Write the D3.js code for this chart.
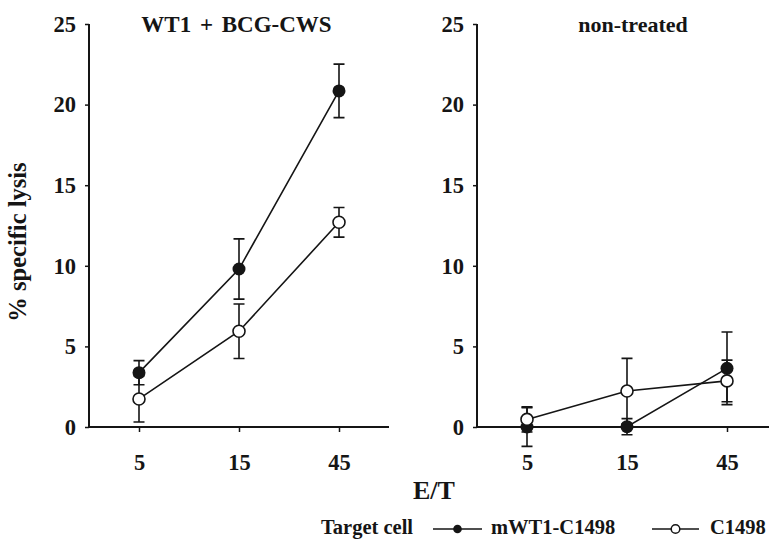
<!DOCTYPE html>
<html>
<head>
<meta charset="utf-8">
<script src="https://cdn.jsdelivr.net/npm/d3@7/dist/d3.min.js"></script>
<style>
  html, body { margin: 0; padding: 0; background: #fff; }
  svg { display: block; }
  text { font-family: "Liberation Serif", "Times New Roman", serif; font-weight: bold; fill: #151515; }
</style>
</head>
<body>
<svg id="chart" width="769" height="539"></svg>
<script>
// E/T ratios on the x axis
const ratios = ["5", "15", "45"];
const yTicks = [0, 5, 10, 15, 20, 25];
const panelTitles = ["WT1 + BCG-CWS", "non-treated"];
const seriesNames = ["mWT1-C1498", "C1498"];

// % specific lysis (mean) and error, per panel
const wt1Mean   = [3.37, 9.8, 20.85];
const wt1Err    = [0.75, 1.87, 1.66];
const c1498Mean = [1.74, 5.94, 12.7];
const c1498Err  = [1.43, 1.69, 0.92];

const ntWt1Mean   = [0.0, 0.02, 3.64];
const ntWt1Err    = [1.2, 0.5, 2.25];
const ntC1498Mean = [0.47, 2.23, 2.86];
const ntC1498Err  = [0.78, 2.03, 1.29];

const panels = [
  { title: panelTitles[0], x0: 89, titleX: 236.5, titleSize: 23, series: [
      { name: seriesNames[0], filled: true,  mean: wt1Mean,   err: wt1Err },
      { name: seriesNames[1], filled: false, mean: c1498Mean, err: c1498Err } ] },
  { title: panelTitles[1], x0: 477, titleX: 633, titleSize: 22, series: [
      { name: seriesNames[0], filled: true,  mean: ntWt1Mean,   err: ntWt1Err },
      { name: seriesNames[1], filled: false, mean: ntC1498Mean, err: ntC1498Err } ] }
];

const ink = "#151515";
const svg = d3.select("#chart");
const y = d3.scaleLinear().domain([0, 25]).range([427, 24]);
const panelWidth = 300;
const r = 6;
const cap = 5.5;

panels.forEach(p => {
  const x = d3.scalePoint().domain(ratios).range([p.x0, p.x0 + panelWidth]).padding(0.5);
  const g = svg.append("g");

  // y axis
  const ya = g.append("g").attr("transform", `translate(${p.x0},0)`)
    .call(d3.axisLeft(y).tickValues(yTicks).tickSize(4).tickPadding(9).tickFormat(d3.format("d")));
  ya.select(".domain").attr("stroke", ink).attr("stroke-width", 2).attr("d", `M-0,${y(25)}V${y(0)}`);
  ya.selectAll(".tick line").attr("stroke", ink).attr("stroke-width", 1.5);
  ya.selectAll(".tick text").attr("font-size", 22.5).attr("font-family", null).attr("fill", null);

  // x axis
  const xa = g.append("g").attr("transform", `translate(0,${y(0)})`)
    .call(d3.axisBottom(x).tickSize(5).tickPadding(22));
  xa.select(".domain").attr("stroke", ink).attr("stroke-width", 2).attr("d", `M${p.x0},0H${p.x0 + panelWidth}`);
  xa.selectAll(".tick line").attr("stroke", ink).attr("stroke-width", 1.5);
  xa.selectAll(".tick text").attr("font-size", 22.5).attr("font-family", null).attr("fill", null);

  // panel title
  g.append("text")
    .attr("x", p.titleX)
    .attr("y", 32)
    .attr("text-anchor", "middle")
    .attr("font-size", p.titleSize)
    .attr("word-spacing", p.titleSize > 22 ? 3 : 0)
    .text(p.title);

  const line = d3.line().x((d, i) => x(ratios[i])).y(d => y(d));

  p.series.forEach(s => {
    g.append("path")
      .attr("d", line(s.mean))
      .attr("fill", "none")
      .attr("stroke", ink)
      .attr("stroke-width", 1.6);
  });

  p.series.forEach(s => {
    const eg = g.append("g");
    s.mean.forEach((m, i) => {
      const cx = x(ratios[i]);
      const top = y(m + s.err[i]);
      const bot = y(m - s.err[i]);
      eg.append("path")
        .attr("d", `M${cx},${top}V${bot}M${cx - cap},${top}H${cx + cap}M${cx - cap},${bot}H${cx + cap}`)
        .attr("fill", "none").attr("stroke", ink).attr("stroke-width", 1.6);
    });
    eg.selectAll("circle").data(s.mean).join("circle")
      .attr("cx", (d, i) => x(ratios[i]))
      .attr("cy", d => y(d))
      .attr("r", s.filled ? r + 0.5 : r)
      .attr("fill", s.filled ? ink : "#fff")
      .attr("stroke", ink)
      .attr("stroke-width", s.filled ? 0 : 1.6);
  });
});

// y axis title
svg.append("text")
  .attr("transform", "translate(26,242) rotate(-90)")
  .attr("text-anchor", "middle")
  .attr("font-size", 24.5)
  .text("% specific lysis");

// x axis title
svg.append("text")
  .attr("x", 434).attr("y", 499)
  .attr("text-anchor", "middle")
  .attr("font-size", 26)
  .text("E/T");

// legend
const lg = svg.append("g");
const legendY = 534;
const legendSize = 20.5;
lg.append("text").attr("x", 321).attr("y", legendY).attr("font-size", legendSize).text("Target cell");
const legendItems = [
  { name: seriesNames[0], filled: true,  x1: 433, x2: 482, tx: 491 },
  { name: seriesNames[1], filled: false, x1: 652, x2: 699, tx: 710 }
];
legendItems.forEach(it => {
  const cy = legendY - 5;
  lg.append("line").attr("x1", it.x1).attr("x2", it.x2).attr("y1", cy).attr("y2", cy)
    .attr("stroke", ink).attr("stroke-width", 1.6);
  lg.append("circle").attr("cx", (it.x1 + it.x2) / 2).attr("cy", cy).attr("r", 4.3)
    .attr("fill", it.filled ? ink : "#fff").attr("stroke", ink).attr("stroke-width", it.filled ? 0 : 1.5);
  lg.append("text").attr("x", it.tx).attr("y", legendY).attr("font-size", legendSize).text(it.name);
});
</script>
</body>
</html>
